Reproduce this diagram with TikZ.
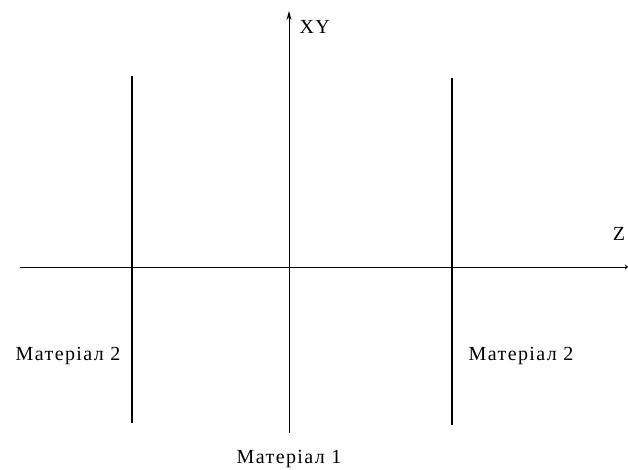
\documentclass[tikz,border=0pt]{standalone}
\usepackage{fontspec}
\setmainfont{Liberation Serif}
\newfontfamily\labfont[LetterSpace=7]{Liberation Serif}
\usepackage{tikz}
\usetikzlibrary{arrows.meta}

\begin{document}
\begin{tikzpicture}[x=1pt, y=-1pt, >={Stealth[length=9pt,width=5pt]},
    font=\labfont\fontsize{20}{22}\selectfont,
    axis/.style={line width=1pt},
    wall/.style={line width=2.2pt}]
    \useasboundingbox (0,0) rectangle (628,470);
    % axes
    \coordinate (xyb) at (289,433);
    \coordinate (xyt) at (289,11);
    \coordinate (zl) at (20,267);
    \coordinate (zr) at (628,267);
    \draw[axis,->] (xyb) -- (xyt);
    \draw[axis,-{Stealth[length=3pt,width=5pt]}] (zl) -- (zr);
    \node[anchor=west] (xy) at (296,27) {XY};
    \node (z) at (619,234) {Z};
    % boundaries of the layer
    \coordinate (lt) at (132,76);
    \coordinate (lb) at (132,423);
    \coordinate (rt) at (452,78);
    \coordinate (rb) at (452,425);
    \draw[wall] (lt) -- (lb);
    \draw[wall] (rt) -- (rb);
    \node (m2l) at (68,356) {Матеріал 2};
    \node (m2r) at (521,356) {Матеріал 2};
    \node (m1) at (289,459) {Матеріал 1};
\end{tikzpicture}
\end{document}
